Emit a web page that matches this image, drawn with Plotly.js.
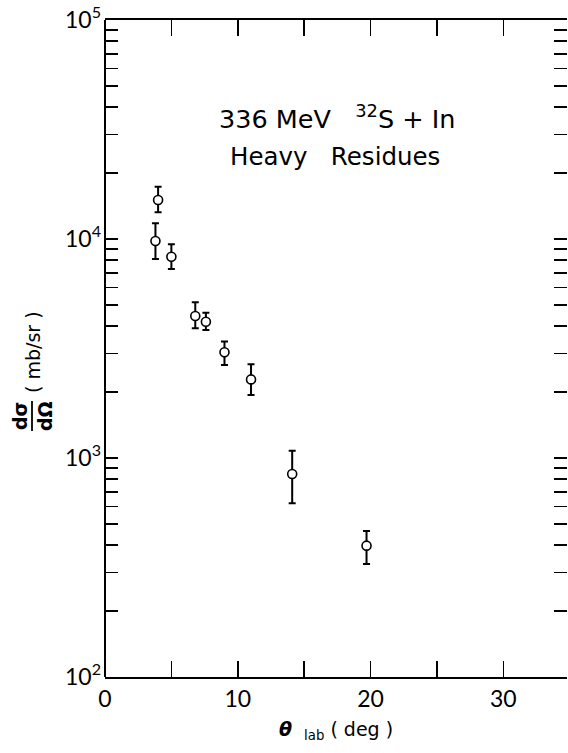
<!DOCTYPE html>
<html>
<head>
<meta charset="utf-8">
<script src="https://cdn.plot.ly/plotly-3.0.1.min.js"></script>
<style>html,body{margin:0;padding:0;background:#fff;overflow:hidden}</style>
</head>
<body>
<div id="chart" style="width:568px;height:753px"></div>
<script>
// Data
const thetaLab = [3.8, 4.0, 5.0, 6.8, 7.6, 9.0, 11.0, 14.1, 19.7];
const dSigma   = [9790, 15070, 8300, 4450, 4190, 3040, 2285, 845, 398];
const errUp    = [2000, 2260, 1160, 690, 420, 360, 395, 235, 66];
const errDown  = [1690, 1830, 1000, 540, 350, 380, 345, 224, 70];

const xTickVals = [0, 10, 20, 30];
const xTickText = ['0', '10', '20', '30'];
const xMinorVals = [5, 15, 25];
const decades = [2, 3, 4, 5];

const titleLine1 = '336 MeV&nbsp;&nbsp;&nbsp;<sup>32</sup>S + In';
const titleLine2 = 'Heavy&nbsp;&nbsp;&nbsp;Residues';
const xTitle = '<b><i>θ</i></b>&nbsp;&nbsp;<sub>lab</sub>&nbsp;( deg )';
const yTitleNum = 'dσ';
const yTitleDen = 'dΩ';
const yTitleUnit = '( mb/sr )';

// y ticks: decades labelled, 2..9 as minor ticks
const yTickVals = decades.map(d => Math.pow(10, d));
const yTickText = decades.map(d => '10<sup>' + d + '</sup>');
const yMinorVals = [];
decades.slice(0, -1).forEach(d => {
  [2,3,4,5,6,7,8,9].forEach(m => yMinorVals.push(m * Math.pow(10, d)));
});

const TICKFONT = 'Lato, "Open Sans", sans-serif';
const FONT = '"DejaVu Sans", sans-serif';

const trace = {
  x: thetaLab,
  y: dSigma,
  type: 'scatter',
  mode: 'markers',
  marker: {symbol: 'circle', size: 9, color: '#fff', line: {color: '#000', width: 1.6}},
  error_y: {type: 'data', symmetric: false, array: errUp, arrayminus: errDown,
            color: '#000', thickness: 2, width: 3.5},
  showlegend: false,
  hoverinfo: 'none'
};

const layout = {
  width: 568, height: 753,
  margin: {l: 105, r: 1, t: 20, b: 76},
  paper_bgcolor: '#fff', plot_bgcolor: '#fff',
  font: {family: FONT, color: '#000'},
  xaxis: {
    range: [0, 34.8], showgrid: false, zeroline: false,
    showline: true, linecolor: '#000', linewidth: 2, mirror: 'ticks',
    ticks: 'inside', ticklen: 16, tickwidth: 1.5, tickcolor: '#000',
    tickmode: 'array', tickvals: xTickVals, ticktext: xTickText,
    minor: {tickmode: 'array', tickvals: xMinorVals, ticks: 'inside', ticklen: 16,
            tickwidth: 1.5, tickcolor: '#000', showgrid: false},
    tickfont: {family: TICKFONT, size: 23, color: '#000'},
    title: {text: xTitle, font: {family: FONT, size: 19, color: '#000'}, standoff: 12}
  },
  yaxis: {
    type: 'log', range: [2, 5], showgrid: false, zeroline: false,
    showline: false, mirror: 'ticks',
    ticks: 'inside', ticklen: 13, tickwidth: 1.5, tickcolor: '#000',
    tickmode: 'array', tickvals: yTickVals, ticktext: yTickText,
    minor: {tickmode: 'array', tickvals: yMinorVals, ticks: 'inside', ticklen: 13,
            tickwidth: 1.5, tickcolor: '#000', showgrid: false},
    tickfont: {family: TICKFONT, size: 23, color: '#000'},
    ticklabelstandoff: 3
  },
  shapes: [
    {type: 'line', xref: 'paper', yref: 'paper', x0: 0, x1: 0, y0: 0, y1: 1,
     line: {color: '#000', width: 2}},
    {type: 'line', xref: 'paper', yref: 'paper', x0: (32 - 105) / 462, x1: (32 - 105) / 462,
     y0: (677 - 431) / 657, y1: (677 - 401) / 657, line: {color: '#000', width: 1.8}}
  ],
  annotations: [
    {text: titleLine1, xref: 'paper', yref: 'paper', x: 0.502, y: (677 - 117) / 657,
     xanchor: 'center', yanchor: 'middle', showarrow: false,
     font: {family: FONT, size: 25.5, color: '#000'}},
    {text: titleLine2, xref: 'paper', yref: 'paper', x: 0.498, y: (677 - 156) / 657,
     xanchor: 'center', yanchor: 'middle', showarrow: false,
     font: {family: FONT, size: 24.5, color: '#000'}},
    {text: '<b>' + yTitleNum + '</b>', xref: 'paper', yref: 'paper', x: (20 - 105) / 462, y: (677 - 416) / 657,
     xanchor: 'center', yanchor: 'middle', textangle: -90, showarrow: false,
     font: {family: FONT, size: 19, color: '#000'}},
    {text: '<b>' + yTitleDen + '</b>', xref: 'paper', yref: 'paper', x: (45 - 105) / 462, y: (677 - 416) / 657,
     xanchor: 'center', yanchor: 'middle', textangle: -90, showarrow: false,
     font: {family: FONT, size: 19, color: '#000'}},
    {text: yTitleUnit, xref: 'paper', yref: 'paper', x: (33 - 105) / 462, y: (677 - 352) / 657,
     xanchor: 'center', yanchor: 'middle', textangle: -90, showarrow: false,
     font: {family: FONT, size: 19, color: '#000'}}
  ]
};

Plotly.newPlot('chart', [trace], layout, {staticPlot: true, displayModeBar: false});
</script>
</body>
</html>
